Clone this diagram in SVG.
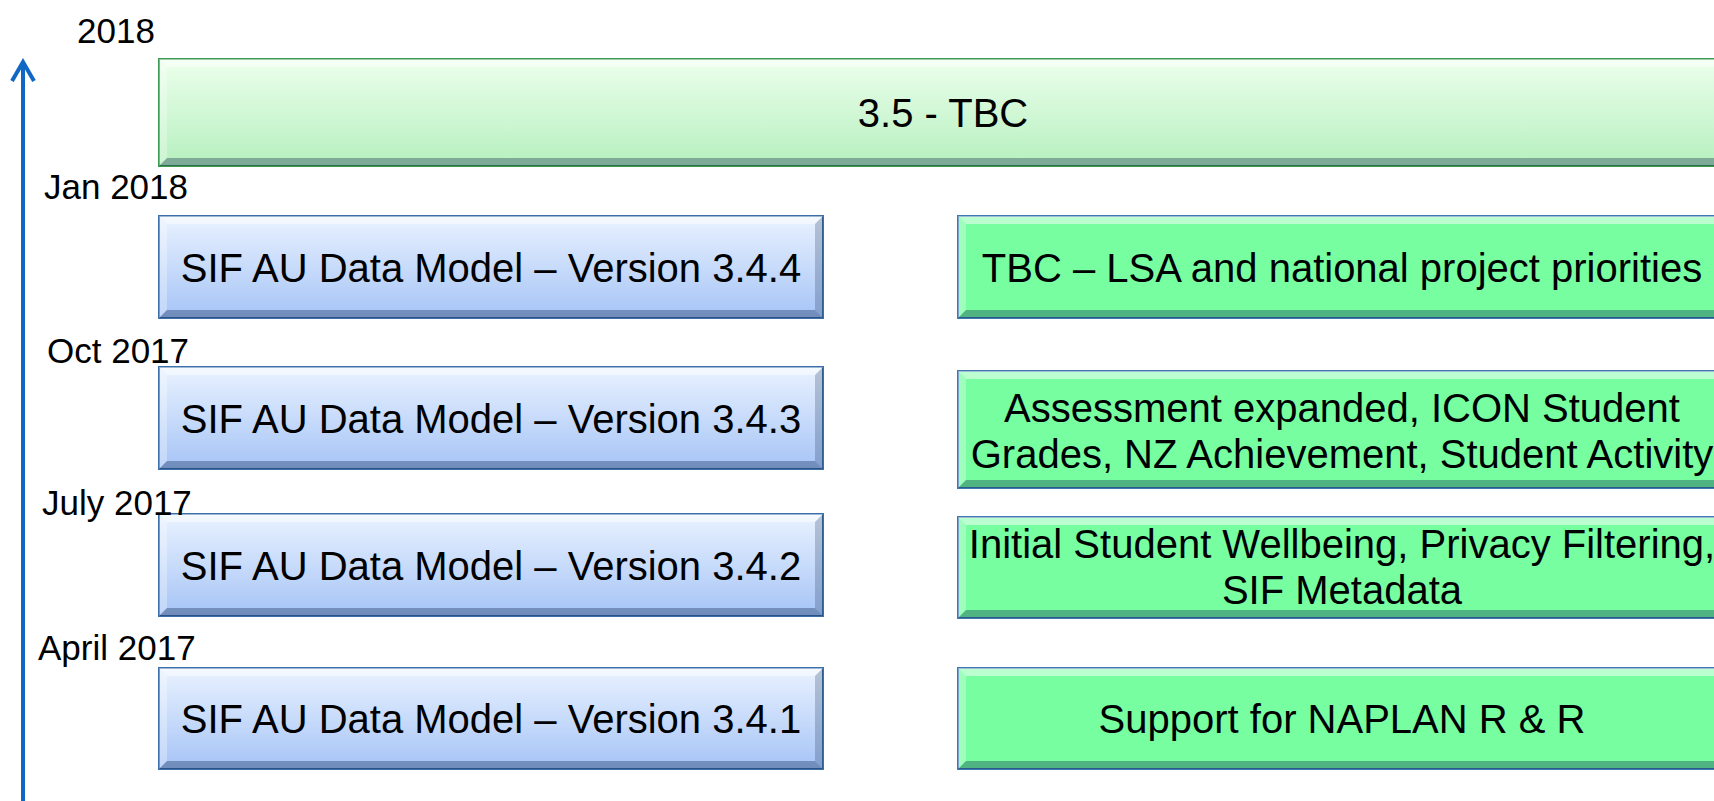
<svg xmlns="http://www.w3.org/2000/svg" width="1714" height="801" viewBox="0 0 1714 801">
<style>
.bl{fill:url(#gBlue);stroke:#3d6fa8;stroke-width:2}
.gr{fill:#76fea1;stroke:#3f78b0;stroke-width:2}
.tb{fill:url(#gTop);stroke:#3e9a52;stroke-width:2}
.hi{fill:#fff;opacity:.5}
.hl{fill:#fff;opacity:.3}
.sr{fill:#001a40;opacity:.22}
.sb{fill:#001a40;opacity:.32}
.b{font-family:"Liberation Sans",Arial,sans-serif;font-size:40px;text-anchor:middle;fill:#000}
.d{font-family:"Liberation Sans",Arial,sans-serif;font-size:35px;fill:#000}
.ax{stroke:#1068c4;stroke-width:4;fill:none}
</style>
<defs>
<linearGradient id="gBlue" x1="0" y1="0" x2="0" y2="1">
<stop offset="0" stop-color="#e9f2ff"/>
<stop offset="1" stop-color="#a6c4f6"/>
</linearGradient>
<linearGradient id="gTop" x1="0" y1="0" x2="0" y2="1">
<stop offset="0" stop-color="#ecffec"/>
<stop offset="1" stop-color="#b6f0bf"/>
</linearGradient>
</defs>
<rect width="1714" height="801" fill="#fff"/>
<g id="connectors">
<line class="ax" x1="23" y1="801" x2="23" y2="62"/>
<polyline class="ax" points="12,81 23,62 34,81" stroke-linejoin="miter"/>
</g>
<g id="bar-35">
<rect class="tb" x="159" y="59" width="1568" height="107"/>
<polygon class="hi" points="159,59 1727,59 1719,67 167,67"/>
<polygon class="hl" points="159,59 167,67 167,158 159,166"/>
<polygon class="sb" points="159,166 1727,166 1719,158 167,158"/>
<text class="b" x="943" y="127">3.5 - TBC</text>
</g>
<g id="v344">
<rect class="bl" x="159" y="216" width="664" height="102"/>
<polygon class="hi" points="159,216 823,216 815,224 167,224"/>
<polygon class="hl" points="159,216 167,224 167,310 159,318"/>
<polygon class="sr" points="823,216 823,318 815,310 815,224"/>
<polygon class="sb" points="159,318 823,318 815,310 167,310"/>
<text class="b" x="491" y="282">SIF AU Data Model – Version 3.4.4</text>
</g>
<g id="v343">
<rect class="bl" x="159" y="367" width="664" height="102"/>
<polygon class="hi" points="159,367 823,367 815,375 167,375"/>
<polygon class="hl" points="159,367 167,375 167,461 159,469"/>
<polygon class="sr" points="823,367 823,469 815,461 815,375"/>
<polygon class="sb" points="159,469 823,469 815,461 167,461"/>
<text class="b" x="491" y="433">SIF AU Data Model – Version 3.4.3</text>
</g>
<g id="v342">
<rect class="bl" x="159" y="514" width="664" height="102"/>
<polygon class="hi" points="159,514 823,514 815,522 167,522"/>
<polygon class="hl" points="159,514 167,522 167,608 159,616"/>
<polygon class="sr" points="823,514 823,616 815,608 815,522"/>
<polygon class="sb" points="159,616 823,616 815,608 167,608"/>
<text class="b" x="491" y="580">SIF AU Data Model – Version 3.4.2</text>
</g>
<g id="v341">
<rect class="bl" x="159" y="668" width="664" height="101"/>
<polygon class="hi" points="159,668 823,668 815,676 167,676"/>
<polygon class="hl" points="159,668 167,676 167,761 159,769"/>
<polygon class="sr" points="823,668 823,769 815,761 815,676"/>
<polygon class="sb" points="159,769 823,769 815,761 167,761"/>
<text class="b" x="491" y="733">SIF AU Data Model – Version 3.4.1</text>
</g>
<g id="c344">
<rect class="gr" x="958" y="216" width="768" height="102"/>
<polygon class="hi" points="958,216 1726,216 1718,224 966,224"/>
<polygon class="hl" points="958,216 966,224 966,310 958,318"/>
<polygon class="sb" points="958,318 1726,318 1718,310 966,310"/>
<text class="b" x="1342" y="282">TBC – LSA and national project priorities</text>
</g>
<g id="c343">
<rect class="gr" x="958" y="371" width="768" height="117"/>
<polygon class="hi" points="958,371 1726,371 1718,379 966,379"/>
<polygon class="hl" points="958,371 966,379 966,480 958,488"/>
<polygon class="sb" points="958,488 1726,488 1718,480 966,480"/>
<text class="b" x="1342" y="422">Assessment expanded, ICON Student</text>
<text class="b" x="1342" y="468">Grades, NZ Achievement, Student Activity</text>
</g>
<g id="c342">
<rect class="gr" x="958" y="517" width="768" height="101"/>
<polygon class="hi" points="958,517 1726,517 1718,525 966,525"/>
<polygon class="hl" points="958,517 966,525 966,610 958,618"/>
<polygon class="sb" points="958,618 1726,618 1718,610 966,610"/>
<text class="b" x="1342" y="558">Initial Student Wellbeing, Privacy Filtering,</text>
<text class="b" x="1342" y="604">SIF Metadata</text>
</g>
<g id="c341">
<rect class="gr" x="958" y="668" width="768" height="101"/>
<polygon class="hi" points="958,668 1726,668 1718,676 966,676"/>
<polygon class="hl" points="958,668 966,676 966,761 958,769"/>
<polygon class="sb" points="958,769 1726,769 1718,761 966,761"/>
<text class="b" x="1342" y="733">Support for NAPLAN R &amp; R</text>
</g>
<g id="dates">
<text class="d" x="77" y="43">2018</text>
<text class="d" x="44" y="199">Jan 2018</text>
<text class="d" x="47" y="363">Oct 2017</text>
<text class="d" x="42" y="515">July 2017</text>
<text class="d" x="38" y="660">April 2017</text>
</g>
</svg>
